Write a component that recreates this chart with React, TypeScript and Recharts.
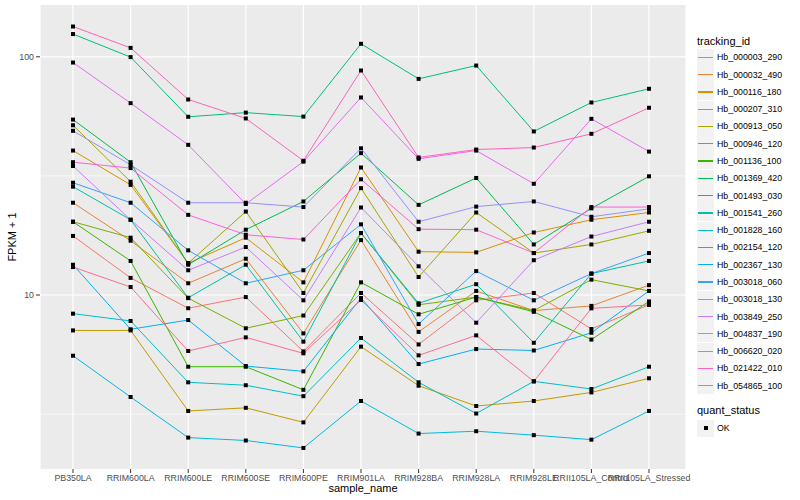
import React from 'react';
import { LineChart, Line, XAxis, YAxis, CartesianGrid } from 'recharts';

const samples = [
  'PB350LA',
  'RRIM600LA',
  'RRIM600LE',
  'RRIM600SE',
  'RRIM600PE',
  'RRIM901LA',
  'RRIM928BA',
  'RRIM928LA',
  'RRIM928LE',
  'RRII105LA_Control',
  'RRII105LA_Stressed',
];

const trackingIds = [
  'Hb_000003_290',
  'Hb_000032_490',
  'Hb_000116_180',
  'Hb_000207_310',
  'Hb_000913_050',
  'Hb_000946_120',
  'Hb_001136_100',
  'Hb_001369_420',
  'Hb_001493_030',
  'Hb_001541_260',
  'Hb_001828_160',
  'Hb_002154_120',
  'Hb_002367_130',
  'Hb_003018_060',
  'Hb_003018_130',
  'Hb_003849_250',
  'Hb_004837_190',
  'Hb_006620_020',
  'Hb_021422_010',
  'Hb_054865_100',
];

// ggplot default hue palette, 20 levels
const palette = [
  '#F8766D', '#EA8331', '#D89000', '#C09B00', '#A3A500',
  '#7CAE00', '#39B600', '#00BB4E', '#00BF7D', '#00C1A3',
  '#00BFC4', '#00BAE0', '#00B0F6', '#35A2FF', '#9590FF',
  '#C77CFF', '#E76BF3', '#FA62DB', '#FF62BC', '#FF6C91',
];

// FPKM + 1 per sample, in the order of `samples`
const hb000003_290 = [17.7, 11.8, 8.8, 9.8, 5.8, 10.2, 6.2, 9.5, 10.2, 7.2, 9.1];
const hb000032_490 = [24.4, 16.9, 11.2, 14.2, 6.9, 17.0, 7.0, 10.4, 8.6, 9.0, 11.0];
const hb000116_180 = [40.4, 29.0, 13.6, 17.4, 11.3, 34.3, 15.2, 15.1, 18.3, 20.7, 22.2];
const hb000207_310 = [7.1, 7.1, 3.26, 3.36, 2.92, 6.07, 4.16, 3.42, 3.59, 3.9, 4.47];
const hb000913_050 = [51.6, 29.9, 13.6, 22.4, 10.2, 28.1, 11.9, 22.2, 15.0, 16.3, 18.6];
const hb000946_120 = [20.3, 17.4, 9.7, 7.25, 8.2, 18.2, 9.1, 9.8, 8.6, 11.6, 10.4];
const hb001136_100 = [20.3, 13.9, 5.0, 5.0, 4.0, 11.3, 8.3, 9.8, 8.5, 6.5, 9.4];
const hb001369_420 = [54.5, 36.1, 13.4, 18.8, 24.7, 39.4, 23.9, 31.0, 16.3, 23.1, 31.5];
const hb001493_030 = [124.6, 99.7, 56.0, 58.3, 56.1, 113.4, 80.8, 91.9, 48.6, 64.3, 73.4];
const hb001541_260 = [28.5, 20.7, 9.74, 13.4, 6.37, 18.2, 9.23, 11.1, 6.3, 12.3, 13.9];
const hb001828_160 = [8.35, 7.78, 4.3, 4.18, 3.76, 6.6, 4.3, 3.18, 4.34, 4.03, 5.0];
const hb002154_120 = [5.56, 3.73, 2.52, 2.45, 2.28, 3.59, 2.62, 2.68, 2.58, 2.47, 3.26];
const hb002367_130 = [13.4, 7.18, 7.85, 5.03, 4.78, 9.71, 5.13, 5.93, 5.85, 6.94, 10.4];
const hb003018_060 = [29.6, 24.4, 15.4, 11.2, 12.7, 19.8, 7.55, 12.6, 9.5, 12.3, 15.0];
const hb003018_130 = [48.9, 35.2, 24.4, 24.4, 23.4, 41.3, 20.3, 23.5, 24.7, 21.3, 23.0];
const hb003849_250 = [34.8, 20.7, 12.7, 15.9, 9.5, 23.3, 13.2, 7.65, 14.0, 17.6, 20.3];
const hb004837_190 = [94.6, 63.9, 42.7, 24.1, 36.3, 67.5, 37.3, 40.4, 29.3, 54.9, 40.0];
const hb006620_020 = [36.1, 34.1, 21.7, 17.9, 17.1, 30.6, 18.9, 18.8, 15.0, 23.4, 23.4];
const hb021422_010 = [134, 109, 66.2, 55.1, 36.6, 87.6, 37.8, 40.8, 41.6, 47.5, 61.1];
const hb054865_100 = [13.1, 10.8, 5.82, 6.64, 5.69, 9.53, 5.58, 6.77, 4.34, 8.79, 9.08];

const seriesValues = [
  hb000003_290, hb000032_490, hb000116_180, hb000207_310, hb000913_050,
  hb000946_120, hb001136_100, hb001369_420, hb001493_030, hb001541_260,
  hb001828_160, hb002154_120, hb002367_130, hb003018_060, hb003018_130,
  hb003849_250, hb004837_190, hb006620_020, hb021422_010, hb054865_100,
];

const yTicks = [10, 100];
const yMinor = [Math.sqrt(10), Math.sqrt(1000)];

const chartData = samples.map((sample, i) => {
  const row: Record<string, string | number> = { sample };
  trackingIds.forEach((id, k) => {
    row[id] = seriesValues[k][i];
  });
  return row;
});

const font = '"Liberation Sans", Arial, Helvetica, sans-serif';

const SquareDot = (props: any) => {
  const { cx, cy, index, dataKey } = props;
  if (cx == null || cy == null) return null;
  return (
    <rect key={`${dataKey}-${index}`} x={cx - 2} y={cy - 2} width={4} height={4} fill="#000" />
  );
};

const LegendKey = ({ top, children }: { top: number; children: React.ReactNode }) => (
  <div
    style={{
      position: 'absolute',
      left: 697,
      top,
      width: 17,
      height: 17,
      background: '#F2F2F2',
    }}
  >
    {children}
  </div>
);

export default function App() {
  return (
    <div
      style={{
        position: 'absolute',
        left: 0,
        top: 0,
        width: 800,
        height: 500,
        background: '#fff',
        fontFamily: font,
        overflow: 'hidden',
      }}
    >
      <LineChart
        width={800}
        height={500}
        data={chartData}
        margin={{ top: 5, right: 114, bottom: 0, left: 0 }}
      >
        <CartesianGrid
          fill="#EBEBEB"
          vertical={false}
          horizontalValues={yMinor}
          stroke="#FFFFFF"
          strokeWidth={0.6}
        />
        <CartesianGrid
          horizontalValues={yTicks}
          stroke="#FFFFFF"
          strokeWidth={1.2}
        />
        <XAxis
          dataKey="sample"
          type="category"
          interval={0}
          height={31}
          padding={{ left: 33, right: 37 }}
          axisLine={false}
          tickLine={{ stroke: '#333333' }}
          tickSize={4}
          tick={{ fontSize: 8.8, fill: '#4D4D4D', fontFamily: font }}
        />
        <YAxis
          type="number"
          scale="log"
          domain={[1.86, 165]}
          allowDataOverflow
          ticks={yTicks}
          width={40}
          axisLine={false}
          tickLine={{ stroke: '#333333' }}
          tickSize={4}
          tick={{ fontSize: 8.8, fill: '#4D4D4D', fontFamily: font }}
        />
        {trackingIds.map((id, k) => (
          <Line
            key={id}
            type="linear"
            dataKey={id}
            stroke={palette[k]}
            strokeWidth={1}
            dot={false}
            activeDot={false}
            isAnimationActive={false}
          />
        ))}
        {trackingIds.map((id) => (
          <Line
            key={`${id}-pts`}
            type="linear"
            dataKey={id}
            stroke="none"
            dot={SquareDot}
            activeDot={false}
            legendType="none"
            isAnimationActive={false}
          />
        ))}
      </LineChart>

      {/* axis titles */}
      <div
        style={{
          position: 'absolute',
          left: 263,
          top: 481,
          width: 200,
          textAlign: 'center',
          fontSize: 11,
          lineHeight: '14px',
          color: '#000',
        }}
      >
        sample_name
      </div>
      <div
        style={{
          position: 'absolute',
          left: 12 - 50,
          top: 237 - 7,
          width: 100,
          textAlign: 'center',
          fontSize: 11,
          lineHeight: '14px',
          transform: 'rotate(-90deg)',
          color: '#000',
        }}
      >
        FPKM + 1
      </div>

      {/* legend: tracking_id */}
      <div style={{ position: 'absolute', left: 697, top: 34, fontSize: 11, lineHeight: '14px' }}>
        tracking_id
      </div>
      {trackingIds.map((id, k) => {
        const center = 57.3 + k * 17.28;
        return (
          <React.Fragment key={id}>
            <LegendKey top={center - 8.5}>
              <div
                style={{
                  position: 'absolute',
                  left: 1,
                  right: 1,
                  top: 8,
                  height: 1.2,
                  background: palette[k],
                }}
              />
            </LegendKey>
            <div
              style={{
                position: 'absolute',
                left: 717,
                top: center - 6,
                fontSize: 8.8,
                lineHeight: '12px',
                color: '#000',
              }}
            >
              {id}
            </div>
          </React.Fragment>
        );
      })}

      {/* legend: quant_status */}
      <div style={{ position: 'absolute', left: 697, top: 403, fontSize: 11, lineHeight: '14px' }}>
        quant_status
      </div>
      <LegendKey top={428 - 8.5}>
        <div
          style={{
            position: 'absolute',
            left: 6.5,
            top: 6.5,
            width: 4,
            height: 4,
            background: '#000',
          }}
        />
      </LegendKey>
      <div
        style={{
          position: 'absolute',
          left: 717,
          top: 428 - 6,
          fontSize: 8.8,
          lineHeight: '12px',
          color: '#000',
        }}
      >
        OK
      </div>
    </div>
  );
}
